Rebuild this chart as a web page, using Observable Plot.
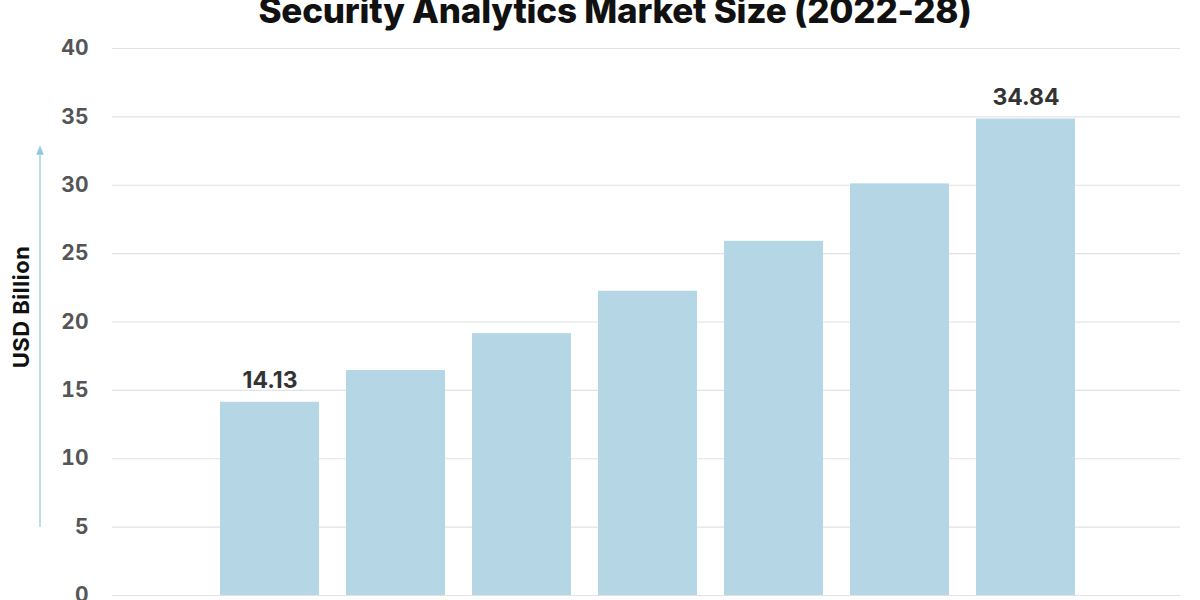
<!DOCTYPE html>
<html>
<head>
<meta charset="utf-8">
<script src="https://cdn.jsdelivr.net/npm/d3@7"></script>
<script src="https://cdn.jsdelivr.net/npm/@observablehq/plot@0.6"></script>
<style>
  html, body { margin: 0; padding: 0; background: #fff; }
  body { width: 1200px; height: 600px; overflow: hidden; position: relative; font-family: Inter, "Open Sans", sans-serif; }
  #chart { position: absolute; left: 0; top: 0; z-index: 1; }
  #title { position: absolute; left: 0; width: 1230px; top: -11px; line-height: 40px; text-align: center; font: 800 35px Inter, sans-serif; color: #111; letter-spacing: -0.2px; white-space: nowrap; z-index: 2; }
  #deco { position: absolute; left: 0; top: 0; pointer-events: none; z-index: 3; }
</style>
</head>
<body>
<div id="chart"></div>
<div id="title">Security Analytics Market Size (2022-28)</div>
<svg id="deco" width="120" height="600">
  <defs>
    <marker id="ah" viewBox="0 0 10 10" refX="5" refY="5" markerWidth="6" markerHeight="6" orient="auto">
      <path d="M0,1 L10,5 L0,9 z" fill="#8ecbde"></path>
    </marker>
  </defs>
  <line x1="40" y1="527" x2="40" y2="150" stroke="#a9d6e4" stroke-width="1.6" marker-end="url(#ah)"></line>
  <text transform="translate(29,307) rotate(-90)" text-anchor="middle" font-family="Inter, sans-serif" font-weight="700" font-size="22" letter-spacing="0.5" fill="#111">USD Billion</text>
</svg>
<script>
const years = ["2022", "2023", "2024", "2025", "2026", "2027", "2028"];
const values = [14.13, 16.45, 19.15, 22.25, 25.9, 30.1, 34.84];
const yTicks = [0, 5, 10, 15, 20, 25, 30, 35, 40];
const labeledYears = ["2022", "2028"];

const data = years.map((year, i) => ({year, value: values[i]}));

const chart = Plot.plot({
  width: 1200,
  height: 620,
  marginTop: 48,
  marginBottom: 25,
  marginLeft: 112,
  marginRight: 20,
  style: {background: "#fff", fontFamily: "Inter, sans-serif"},
  x: {type: "band", domain: years, paddingInner: 0.214, paddingOuter: 0.84, align: 0.505, axis: null},
  y: {domain: [0, 40], axis: null},
  marks: [
    Plot.gridY(yTicks, {stroke: "#e2e2e2", strokeOpacity: 1, strokeWidth: 1.2}),
    Plot.axisY(yTicks, {tickSize: 0, tickPadding: 24, label: null, fontSize: 21, fontWeight: 700, fill: "#555", tickFormat: d => String(d)}),
    Plot.barY(data, {x: "year", y: "value", fill: "#b4d6e5"}),
    Plot.text(data.filter(d => labeledYears.includes(d.year)), {
      x: "year", y: "value", text: d => d.value.toFixed(2),
      lineAnchor: "bottom", dy: -14, fontSize: 23, fontWeight: 700, fill: "#333"
    })
  ]
});
document.getElementById("chart").appendChild(chart);
</script>
</body>
</html>
